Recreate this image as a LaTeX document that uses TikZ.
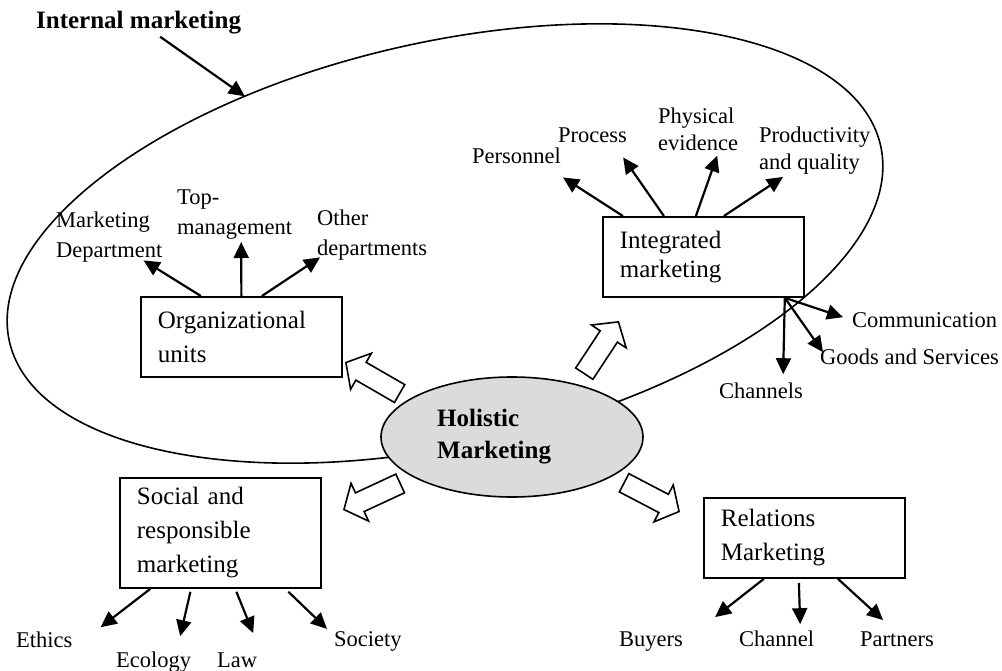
\documentclass[tikz,border=0pt]{standalone}
\usepackage{fontspec}
\setmainfont{Liberation Serif}
\usetikzlibrary{arrows.meta,shapes.geometric,shapes.arrows}

\begin{document}
\begin{tikzpicture}[
    x=1pt,
    y=-1pt,
    unit/.style={
        draw,
        line width=1.8pt,
        fill=white,
        anchor=north west,
        align=left,
        text width=167pt,
        inner xsep=17pt,
        minimum width=201pt,
        font=\fontsize{25}{34}\selectfont
    },
    lbl/.style={
        inner sep=0pt,
        align=left,
        font=\fontsize{22.5}{30}\selectfont
    },
    link/.style={
        -{Triangle[length=16pt,width=15pt]},
        line width=2.2pt
    },
    push/.style={
        single arrow,
        draw,
        line width=1.6pt,
        fill=white,
        inner sep=9.5pt,
        minimum height=62pt,
        single arrow head extend=10.5pt,
        single arrow tip angle=100,
        anchor=tip
    }
]
\useasboundingbox (0,0) rectangle (1002,670);

% Ellipses
\node[draw, ellipse, line width=1.6pt, inner sep=0pt, outer sep=0pt,
    minimum width=893pt, minimum height=403pt, rotate=12.67] (internal) at (445,243.5) {};
\node[draw, ellipse, line width=1.6pt, fill=black!14, inner sep=0pt,
    minimum width=262pt, minimum height=120pt] (holistic) at (512,437) {};
\node[anchor=west, inner sep=0pt, align=left, font=\fontsize{25}{32}\selectfont\bfseries]
    (holtext) at (437,437) {Holistic\\Marketing};

% Boxes
\node[unit, minimum height=80pt] (org) at (140,296) {Organizational\\units};
\node[unit, minimum height=80pt] (int) at (602,216) {Integrated\\[-5pt]marketing};
\node[unit, minimum height=110pt] (soc) at (119,477) {Social and\\responsible\\marketing};
\node[unit, minimum height=80pt] (rel) at (703,497) {Relations\\Marketing};

% Block arrows
\node[push, rotate=150] (toorg) at (345,362) {};
\node[push, rotate=56.6] (toint) at (619,321) {};
\node[push, rotate=204.9] (tosoc) at (343,510) {};
\node[push, rotate=-27.6] (torel) at (680,512) {};

% Labels
\node[lbl, anchor=base west, font=\fontsize{25}{30}\selectfont\bfseries] (intm) at (36,28) {Internal marketing};
\node[lbl, anchor=west] (mkt) at (56,237) {Marketing\\Department};
\node[lbl, anchor=west] (top) at (177,215) {Top-\\management};
\node[lbl, anchor=west] (other) at (317,235) {Other\\departments};
\node[lbl, anchor=base east] (pers) at (561,163) {Personnel};
\node[lbl, anchor=base west] (proc) at (558,142) {Process};
\node[lbl, anchor=west] (phys) at (658,129) {Physical\\[-3pt]evidence};
\node[lbl, anchor=west] (prod) at (759,151) {Productivity\\[-3pt]and quality};
\node[lbl, anchor=base west] (comm) at (852,327) {Communication};
\node[lbl, anchor=base west] (goods) at (820,364) {Goods and Services};
\node[lbl, anchor=base west] (chan) at (719,398) {Channels};
\node[lbl, anchor=base west] (eth) at (16,647) {Ethics};
\node[lbl, anchor=base west] (eco) at (116,667) {Ecology};
\node[lbl, anchor=base west] (law) at (217,667) {Law};
\node[lbl, anchor=base west] (socy) at (334,646) {Society};
\node[lbl, anchor=base west] (buy) at (619,646) {Buyers};
\node[lbl, anchor=base west] (chl) at (739,646) {Channel};
\node[lbl, anchor=base west] (part) at (860,646) {Partners};

% Arrows
\draw[link] ([shift={(21.5,3)}]intm.south) -- (internal.131);

\draw[link] ([shift={(-40.5,0)}]org.north) -- ([shift={(-19,-2)}]mkt.south east);
\draw[link] (org.north) -- ([shift={(6.5,2)}]top.south);
\draw[link] ([shift={(20.5,0)}]org.north) -- ([shift={(3,-3)}]other.south west);

\draw[link] ([shift={(-80.5,0)}]int.north) -- ([shift={(2,14)}]pers.south east);
\draw[link] ([shift={(-39.5,0)}]int.north) -- ([shift={(-4,15)}]proc.south east);
\draw[link] ([shift={(-7.5,0)}]int.north) -- ([shift={(19,5)}]phys.south);
\draw[link] ([shift={(20.5,0)}]int.north) -- ([shift={(24,2)}]prod.south west);
\draw[link] ([shift={(-20,0)}]int.south east) -- ([shift={(-20,-8)}]chan.north east);
\draw[link] ([shift={(-20,0)}]int.south east) -- ([shift={(3,4)}]goods.north west);
\draw[link] ([shift={(-20,0)}]int.south east) -- ([shift={(-9,-2.5)}]comm.west);

\draw[link] ([shift={(-70,0)}]soc.south) -- ([shift={(28,-4)}]eth.north east);
\draw[link] ([shift={(-30,3)}]soc.south) -- ([shift={(26.5,-15)}]eco.north);
\draw[link] ([shift={(16,3)}]soc.south) -- ([shift={(16,-19)}]law.north);
\draw[link] ([shift={(68,3)}]soc.south) -- ([shift={(-7,-2)}]socy.north west);

\draw[link] ([shift={(-40.5,0)}]rel.south) -- ([shift={(32,-14)}]buy.north east);
\draw[link] ([shift={(-5.5,4)}]rel.south) -- ([shift={(23.5,-6)}]chl.north);
\draw[link] ([shift={(33.5,0)}]rel.south) -- ([shift={(-14,-11)}]part.north);

\end{tikzpicture}
\end{document}
